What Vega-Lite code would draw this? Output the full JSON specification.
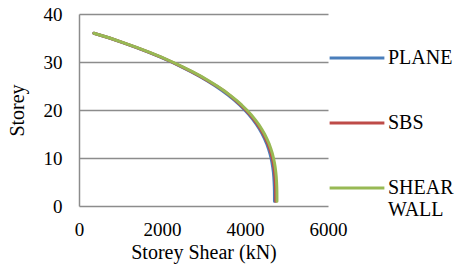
{
  "$schema": "https://vega.github.io/schema/vega-lite/v6.json",
  "autosize": {"type": "none"},
  "padding": {"left": 79, "top": 14, "right": 133, "bottom": 60},
  "width": 249,
  "height": 192,
  "background": "white",
  "config": {
    "view": {"stroke": null},
    "font": "Liberation Serif, serif",
    "axis": {"labelFont": "Liberation Serif, serif", "titleFont": "Liberation Serif, serif", "labelFontSize": 19, "titleFontSize": 20, "labelColor": "#000", "titleColor": "#000", "titleFontWeight": "normal", "ticks": false, "gridColor": "#8c8c8c", "gridWidth": 1.5, "domainColor": "#8c8c8c", "domainWidth": 1.5},
    "legend": {"labelFont": "Liberation Serif, serif", "labelFontSize": 20, "labelColor": "#000"}
  },
  "data": {"values": [
    {"storey": 1, "PLANE": 4710, "SBS": 4740, "SHEAR WALL": 4770},
    {"storey": 2, "PLANE": 4710, "SBS": 4740, "SHEAR WALL": 4770},
    {"storey": 3, "PLANE": 4709, "SBS": 4739, "SHEAR WALL": 4769},
    {"storey": 4, "PLANE": 4706, "SBS": 4736, "SHEAR WALL": 4766},
    {"storey": 5, "PLANE": 4701, "SBS": 4731, "SHEAR WALL": 4761},
    {"storey": 6, "PLANE": 4694, "SBS": 4724, "SHEAR WALL": 4754},
    {"storey": 7, "PLANE": 4684, "SBS": 4713, "SHEAR WALL": 4743},
    {"storey": 8, "PLANE": 4669, "SBS": 4699, "SHEAR WALL": 4729},
    {"storey": 9, "PLANE": 4650, "SBS": 4680, "SHEAR WALL": 4710},
    {"storey": 10, "PLANE": 4627, "SBS": 4657, "SHEAR WALL": 4686},
    {"storey": 11, "PLANE": 4598, "SBS": 4627, "SHEAR WALL": 4657},
    {"storey": 12, "PLANE": 4563, "SBS": 4592, "SHEAR WALL": 4621},
    {"storey": 13, "PLANE": 4521, "SBS": 4550, "SHEAR WALL": 4579},
    {"storey": 14, "PLANE": 4472, "SBS": 4500, "SHEAR WALL": 4529},
    {"storey": 15, "PLANE": 4415, "SBS": 4443, "SHEAR WALL": 4471},
    {"storey": 16, "PLANE": 4350, "SBS": 4377, "SHEAR WALL": 4405},
    {"storey": 17, "PLANE": 4275, "SBS": 4302, "SHEAR WALL": 4330},
    {"storey": 18, "PLANE": 4191, "SBS": 4218, "SHEAR WALL": 4245},
    {"storey": 19, "PLANE": 4097, "SBS": 4123, "SHEAR WALL": 4149},
    {"storey": 20, "PLANE": 3992, "SBS": 4018, "SHEAR WALL": 4043},
    {"storey": 21, "PLANE": 3876, "SBS": 3901, "SHEAR WALL": 3925},
    {"storey": 22, "PLANE": 3748, "SBS": 3775, "SHEAR WALL": 3796},
    {"storey": 23, "PLANE": 3607, "SBS": 3640, "SHEAR WALL": 3653},
    {"storey": 24, "PLANE": 3453, "SBS": 3490, "SHEAR WALL": 3497},
    {"storey": 25, "PLANE": 3286, "SBS": 3315, "SHEAR WALL": 3328},
    {"storey": 26, "PLANE": 3104, "SBS": 3124, "SHEAR WALL": 3144},
    {"storey": 27, "PLANE": 2908, "SBS": 2926, "SHEAR WALL": 2945},
    {"storey": 28, "PLANE": 2696, "SBS": 2713, "SHEAR WALL": 2730},
    {"storey": 29, "PLANE": 2468, "SBS": 2484, "SHEAR WALL": 2499},
    {"storey": 30, "PLANE": 2224, "SBS": 2238, "SHEAR WALL": 2252},
    {"storey": 31, "PLANE": 1962, "SBS": 1975, "SHEAR WALL": 1987},
    {"storey": 32, "PLANE": 1683, "SBS": 1693, "SHEAR WALL": 1704},
    {"storey": 33, "PLANE": 1385, "SBS": 1394, "SHEAR WALL": 1403},
    {"storey": 34, "PLANE": 1068, "SBS": 1075, "SHEAR WALL": 1082},
    {"storey": 35, "PLANE": 733, "SBS": 737, "SHEAR WALL": 742},
    {"storey": 36, "PLANE": 356, "SBS": 358, "SHEAR WALL": 360}
  ]},
  "transform": [{"fold": ["PLANE", "SBS", "SHEAR WALL"], "as": ["series", "shear"]}],
  "mark": {"type": "line", "strokeCap": "round", "strokeJoin": "round", "clip": false},
  "encoding": {
    "x": {"field": "shear", "type": "quantitative", "title": "Storey Shear (kN)",
      "scale": {"domain": [0, 6000]},
      "axis": {"values": [0, 2000, 4000, 6000], "format": "d", "grid": false, "domain": false, "labelPadding": 14, "titlePadding": 3, "labelFlush": false}},
    "y": {"field": "storey", "type": "quantitative", "title": "Storey",
      "scale": {"domain": [0, 40]},
      "axis": {"values": [0, 10, 20, 30, 40], "format": "d", "grid": true, "domain": true, "labelPadding": 17, "titlePadding": 16}},
    "order": {"field": "storey", "type": "quantitative"},
    "color": {"field": "series", "type": "nominal",
      "scale": {"domain": ["PLANE", "SBS", "SHEAR WALL"], "range": ["#4a7ebb", "#be4b48", "#98b954"]},
      "legend": {"title": null, "orient": "none", "legendX": 249, "legendY": 15,
        "symbolType": "stroke", "symbolSize": 3000, "symbolStrokeWidth": 4.5, "labelOffset": 2,
        "rowPadding": 26, "labelBaseline": "middle",
        "labelExpr": "datum.label == 'SHEAR WALL' ? ['SHEAR', 'WALL'] : datum.label"}},
    "strokeWidth": {"field": "series", "type": "nominal",
      "scale": {"domain": ["PLANE", "SBS", "SHEAR WALL"], "range": [3, 3, 5]}, "legend": null}
  }
}
